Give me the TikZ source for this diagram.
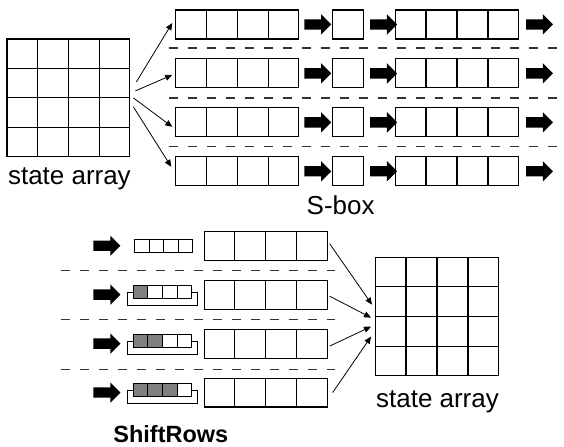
\documentclass[tikz,border=0pt]{standalone}
\usepackage{fontspec}
\setmainfont{Liberation Sans}
\usetikzlibrary{arrows.meta,shapes.arrows,calc}

\tikzset{
  cellrow/.style={draw,line width=1.1pt,minimum width=123pt,minimum height=29pt,inner sep=0pt},
  sbox/.style={draw,line width=1.1pt,minimum width=31pt,minimum height=29pt,inner sep=0pt},
  statebox/.style={draw,line width=1.1pt,minimum width=123pt,minimum height=118pt,inner sep=0pt},
  strip/.style={draw,line width=0.9pt,minimum width=58pt,minimum height=13pt,inner sep=0pt},
  shifted/.style={path picture={\fill[gray] (path picture bounding box.north west) rectangle ($(path picture bounding box.south west)!#1!(path picture bounding box.south east)$);}},
  fatarrow/.style={single arrow,fill=black,minimum height=27pt,single arrow head extend=5pt,inner sep=5pt},
  sep/.style={line width=1.3pt,dash pattern=on 9pt off 10pt,black!80},
  feed/.style={line width=0.8pt,-{Triangle[length=7pt,width=6pt]}},
  lbl/.style={font=\fontsize{26}{28}\selectfont,anchor=base},
}

% inner lines of a 4-cell row / 4x4 array
\newcommand{\cellsplit}[1]{\foreach \k in {0.25,0.5,0.75}
  \draw[line width=1.1pt] ($(#1.north west)!\k!(#1.north east)$) -- ($(#1.south west)!\k!(#1.south east)$);}
\newcommand{\gridsplit}[1]{\cellsplit{#1}\foreach \k in {0.25,0.5,0.75}
  \draw[line width=1.1pt] ($(#1.north west)!\k!(#1.south west)$) -- ($(#1.north east)!\k!(#1.south east)$);}
\newcommand{\stripsplit}[1]{\foreach \k in {0.25,0.5,0.75}
  \draw[line width=0.9pt] ($(#1.north west)!\k!(#1.north east)$) -- ($(#1.south west)!\k!(#1.south east)$);}

\begin{document}
\begin{tikzpicture}[x=1pt,y=-1pt]
\path[fill=white] (0,0) rectangle (564,446);

% SubBytes part
\node[statebox] (st) at (68.5,98) {};
\gridsplit{st}
\node[lbl] (stlbl) at (69.5,185) {state array};

\foreach \i/\y in {1/24.5,2/73.5,3/122.5,4/171.5}{
  \node[cellrow] (in\i) at (237.5,\y) {};
  \node[fatarrow] (pa\i) at (315.5,\y) {};
  \node[sbox] (sb\i) at (348.5,\y) {};
  \node[fatarrow] (pb\i) at (381.5,\y) {};
  \node[cellrow] (out\i) at (457.5,\y) {};
  \node[fatarrow] (pc\i) at (537.5,\y) {};
  \cellsplit{in\i}
  \cellsplit{out\i}
}
\foreach \y in {48,98,147}
  \draw[sep] (169,\y) -- (564,\y);
\node[lbl] (sblbl) at (341,215) {S-box};

\draw[feed] ([xshift=6pt,yshift=16pt]st.east) -- ([xshift=-3pt,yshift=1.5pt]in1.west);
\draw[feed] ([xshift=5pt,yshift=7pt]st.east) -- ([xshift=-3pt,yshift=-1.5pt]in2.west);
\draw[feed] ([xshift=3pt]st.east) -- ([xshift=-3pt,yshift=-4.5pt]in3.west);
\draw[feed] ([xshift=3pt,yshift=-9pt]st.east) -- ([xshift=-4pt,yshift=4.5pt]in4.west);

% ShiftRows part
\foreach \i/\y in {1/246,2/295,3/344,4/393}{
  \node[fatarrow] (pd\i) at (104.5,\y) {};
  \node[cellrow] (sh\i) at (266,\y) {};
  \cellsplit{sh\i}
}
\node[strip] (s1) at (164,246.5) {};
\stripsplit{s1}
\foreach \i/\y/\f in {2/292.5/0.25,3/341.5/0.5,4/390.5/0.75}{
  \node[strip,shifted=\f] (s\i) at (162.5,\y) {};
  \stripsplit{s\i}
  \draw[line width=0.9pt] (s\i.west) -- ++(-5,0) -- ++(0,13.5) -| ($(s\i.east)+(6,0)$) -- (s\i.east);
}
\foreach \y in {271,320,370}
  \draw[sep] (61,\y) -- (335,\y);
\node[lbl,font=\fontsize{23.5}{25}\selectfont\bfseries] (srlbl) at (171,443) {ShiftRows};

\node[statebox] (st2) at (437.5,317) {};
\gridsplit{st2}
\node[lbl] (st2lbl) at (438,408) {state array};

\draw[feed] ([xshift=2pt,yshift=2pt]sh1.east) -- ([xshift=-3pt,yshift=12pt]st2.west);
\draw[feed] ([xshift=2pt,yshift=-1.5pt]sh2.east) -- ([xshift=-4pt,yshift=-1pt]st2.west);
\draw[feed] ([xshift=2pt,yshift=-2.5pt]sh3.east) -- ([xshift=-4pt,yshift=-10pt]st2.west);
\draw[feed] ([xshift=5pt]sh4.east) -- ([xshift=-4pt,yshift=-20pt]st2.west);
\end{tikzpicture}
\end{document}
